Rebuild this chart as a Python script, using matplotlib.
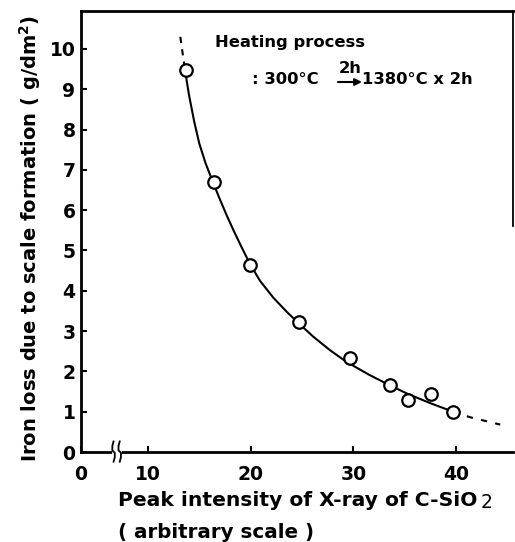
import matplotlib
matplotlib.use('Agg')
import matplotlib.pyplot as plt
from matplotlib.transforms import blended_transform_factory

plt.rcParams['font.family'] = ['DejaVu Sans']
plt.rcParams['font.weight'] = 'bold'
plt.rcParams['mathtext.fontset'] = 'dejavusans'
plt.rcParams['mathtext.default'] = 'bf'

# measured points (peak intensity, iron loss g/dm2)
peak = [13.7, 16.4, 19.9, 24.7, 29.7, 33.6, 35.3, 37.6, 39.7]
loss = [9.48, 6.71, 4.64, 3.23, 2.32, 1.66, 1.29, 1.45, 1.0]

# curve
curve_x = [13.6, 14.0, 14.5, 15.0, 15.6, 16.3, 17.0, 17.7, 18.4, 19.1, 19.9,
           20.9, 22.2, 23.5, 24.6, 26.1, 27.7, 29.3, 31.5, 33.5, 35.3, 37.5, 39.7]
curve_y = [9.48, 8.85, 8.2, 7.65, 7.17, 6.71, 6.27, 5.85, 5.46, 5.09, 4.68,
           4.25, 3.83, 3.48, 3.21, 2.86, 2.53, 2.24, 1.92, 1.66, 1.44, 1.21, 1.0]
# dashed extrapolations
ext_top_x = [13.15, 13.6]
ext_top_y = [10.3, 9.48]
ext_bot_x = [39.7, 41.4, 44.3]
ext_bot_y = [1.0, 0.86, 0.68]

xticks = [10, 20, 30, 40]
yticks = list(range(0, 11))

xmin, xmax = 3.48, 45.54
ymin, ymax = 0, 10.94

W, H = 515, 542
fig = plt.figure(figsize=(W / 100, H / 100), dpi=100)
ax = fig.add_axes([81 / W, 1 - 452 / H, 432 / W, 441 / H])

ax.plot(curve_x, curve_y, color='black', lw=1.5, zorder=2)
ax.plot(ext_top_x, ext_top_y, color='black', lw=1.5, ls=(0, (3, 3)), zorder=2)
ax.plot(ext_bot_x, ext_bot_y, color='black', lw=1.5, ls=(0, (3, 4)), zorder=2)
ax.plot(peak, loss, 'o', ms=9, mfc='white', mec='black', mew=1.6, zorder=3)

ax.set_xlim(xmin, xmax)
ax.set_ylim(ymin, ymax)
ax.set_xticks([xmin] + xticks)
ax.set_xticklabels(['0'] + [str(t) for t in xticks])
ax.set_yticks(yticks)
ax.tick_params(direction='in', length=4, width=1.5, labelsize=13.5)
ax.tick_params(axis='x', pad=9)
ax.tick_params(axis='y', pad=4)
for lab in ax.get_xticklabels() + ax.get_yticklabels():
    lab.set_fontweight('bold')

for s in ['left', 'bottom', 'top']:
    ax.spines[s].set_linewidth(2)
ax.spines['right'].set_linewidth(1.3)
ax.spines['right'].set_bounds(5.6, ymax)

# axis break on the x axis
tr = blended_transform_factory(ax.transData, ax.transAxes)
ax.plot([6.75, 7.15], [0, 0], color='white', lw=4, transform=tr, clip_on=False, zorder=5)
s_x = [0.0, 0.12, 0.12, -0.12, -0.12, 0.0]
s_y = [-0.022, -0.012, -0.002, 0.004, 0.014, 0.024]
for x0 in [6.65, 7.25]:
    ax.plot([x0 + d for d in s_x], s_y, color='black', lw=1.3, transform=tr,
            clip_on=False, zorder=6)

# labels
fig.text(30 / W, 1 - 238 / H, 'Iron loss due to scale formation ( g/dm$^{2}$)',
         rotation=90, ha='center', va='center', fontsize=14, fontweight='bold')
t1 = fig.text(118 / W, 1 - 500 / H, 'Peak intensity of X-ray of C-SiO',
              ha='left', va='center', fontsize=14.6, fontweight='bold')
ax.annotate('2', xy=(1, 0), xycoords=t1, xytext=(2.5, -2), textcoords='offset points',
            ha='left', va='bottom', fontsize=13.5, fontweight='normal')
fig.text(118 / W, 1 - 532 / H, '( arbitrary scale )',
         ha='left', va='center', fontsize=14.3, fontweight='bold')

# heating process note
fig.text(215 / W, 1 - 43 / H, 'Heating process', ha='left', va='center',
         fontsize=11.8, fontweight='bold')
fig.text(252 / W, 1 - 80 / H, ': 300°C', ha='left', va='center',
         fontsize=11.8, fontweight='bold')
fig.text(350 / W, 1 - 69 / H, '2h', ha='center', va='center',
         fontsize=11.8, fontweight='bold')
ax.annotate('', xy=(362 / W, 1 - 82 / H), xytext=(338 / W, 1 - 82 / H),
            xycoords='figure fraction', textcoords='figure fraction',
            arrowprops=dict(arrowstyle='-|>', lw=1.5, color='black',
                            mutation_scale=10, shrinkA=0, shrinkB=0))
fig.text(362 / W, 1 - 80 / H, '1380°C x 2h', ha='left', va='center',
         fontsize=11.8, fontweight='bold')

fig.savefig('out.png', dpi=100)
